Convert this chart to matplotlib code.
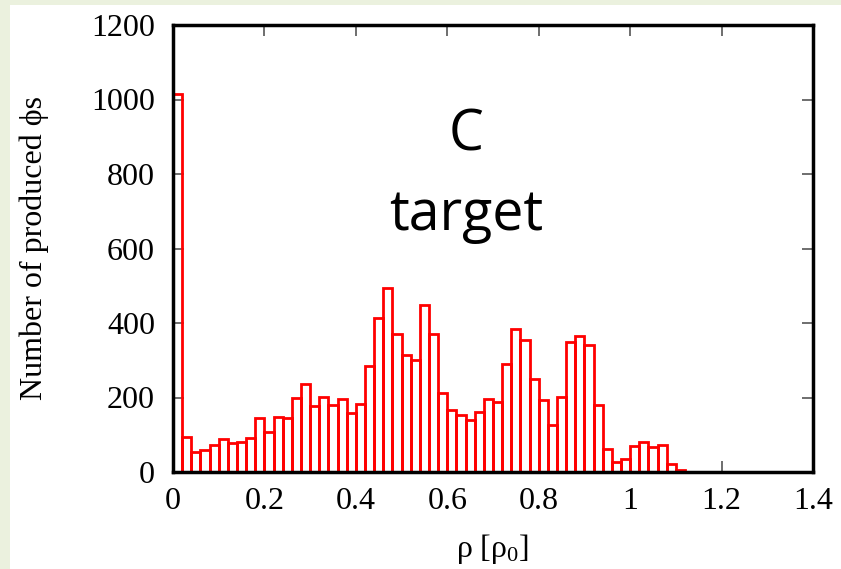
import numpy as np
import matplotlib
matplotlib.use("Agg")
import matplotlib.pyplot as plt
from matplotlib.patches import Rectangle

# Histogram of produced phi mesons versus density (bins of width 0.02 rho0)
bin_width = 0.02
counts = [
    1015, 95, 53, 58, 73, 88, 78, 80, 90, 144,
    108, 148, 144, 200, 237, 176, 201, 180, 197, 158,
    183, 285, 413, 493, 370, 314, 302, 447, 370, 213,
    166, 152, 140, 160, 196, 188, 291, 385, 355, 251,
    192, 127, 201, 348, 365, 340, 180, 63, 26, 36,
    71, 80, 67, 73, 22, 5, 1,
]
bin_left = np.arange(len(counts)) * bin_width

x_ticks = [0, 0.2, 0.4, 0.6, 0.8, 1.0, 1.2, 1.4]
x_tick_labels = ["0", "0.2", "0.4", "0.6", "0.8", "1", "1.2", "1.4"]
y_ticks = [0, 200, 400, 600, 800, 1000, 1200]

plt.rcParams["mathtext.fontset"] = "custom"
plt.rcParams["mathtext.rm"] = "Liberation Serif"
plt.rcParams["mathtext.it"] = "Liberation Serif:italic"

fig = plt.figure(figsize=(8.41, 5.69), dpi=100)
fig.patch.set_facecolor("white")
# light green frame on the top and left edges
fig.patches.append(Rectangle((0, 0), 10 / 841, 1, transform=fig.transFigure,
                             facecolor="#ebf1de", edgecolor="none", zorder=0))
fig.patches.append(Rectangle((0, 1 - 5 / 569), 1, 5 / 569, transform=fig.transFigure,
                             facecolor="#ebf1de", edgecolor="none", zorder=0))

ax = fig.add_axes([173 / 841, 1 - 472 / 569, (813 - 173) / 841, (472 - 25) / 569])

ax.bar(bin_left, counts, width=bin_width, align="edge", fill=False,
       edgecolor="#ff0000", linewidth=2.0, zorder=3)

ax.set_xlim(0, 1.4)
ax.set_ylim(0, 1200)

serif = ["Liberation Serif", "DejaVu Serif"]
ax.set_xticks(x_ticks)
ax.set_xticklabels(x_tick_labels, fontfamily=serif, fontsize=23)
ax.set_yticks(y_ticks)
ax.set_yticklabels([str(v) for v in y_ticks], fontfamily=serif, fontsize=23)
ax.tick_params(axis="x", direction="in", length=8, width=1.2, color="#555555",
               top=True, pad=11)
ax.tick_params(axis="y", direction="in", length=8, width=1.2, color="#555555",
               right=True, pad=13)

for sp in ax.spines.values():
    sp.set_linewidth(2.5)
    sp.set_color("black")
    sp.set_zorder(5)

ax.set_ylabel("Number of produced ϕs", fontfamily=serif, fontsize=23)
ax.yaxis.set_label_coords(-0.194, 0.5)
ax.set_xlabel(r"ρ [ρ$_\mathrm{0}$]", fontfamily=serif, fontsize=23)
ax.xaxis.set_label_coords(0.5, -0.135)

sans = ["Open Sans", "DejaVu Sans"]
ax.text(0.458, 0.720, "C", transform=ax.transAxes, ha="center", va="baseline",
        fontfamily=sans, fontsize=40)
ax.text(0.458, 0.541, "target", transform=ax.transAxes, ha="center", va="baseline",
        fontfamily=sans, fontsize=40)

fig.savefig("out.png", dpi=100)
